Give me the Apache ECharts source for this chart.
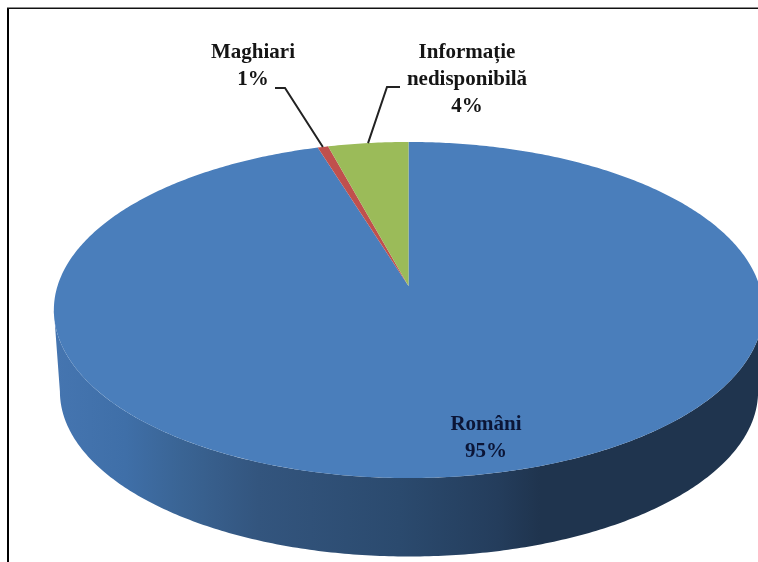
<!DOCTYPE html>
<html>
<head>
<meta charset="utf-8">
<style>
  html, body { margin: 0; padding: 0; background: #fff; }
  #pie3d { width: 758px; height: 562px; }
</style>
<script src="https://cdn.jsdelivr.net/npm/echarts@6/dist/echarts.min.js"></script>
</head>
<body>
<div id="pie3d"></div>
<script>
// clockwise from 12 o'clock; printed labels are these values rounded
var categories = ['Români', 'Maghiari', 'Informație nedisponibilă'];
var shares = [95.25, 0.55, 4.2];
var labelLines = [['Români'], ['Maghiari'], ['Informație', 'nedisponibilă']];

var sliceColors = ['#4a7ebb', '#c0504d', '#9bbb59'];
var textColors = ['#0b1536', '#151515', '#151515'];
var labelX = [486, 253, 467];
var labelY = [425, 53, 53];
var rowHeight = 27;
// elbow of the leader line, and where it starts next to the text
var leaders = [null, [[275, 88], [285, 88]], [[400, 87], [387, 87]]];

// perspective: the pie centre sits above the middle of the ellipse
var k = 1 / 7;
var topFace = { x: 408.5, y: 286, a: 351, b: 164.6 };
var bottomFace = { x: 409, y: 368, a: 345.5, b: 161.6 };
var total = shares.reduce(function (s, v) { return s + v; }, 0);

function project(face, theta) {
  var u = Math.sin(theta);
  var v = -Math.cos(theta);
  var w = 1 - k * v;
  return [face.x + face.a * u / w, face.y + face.b * v / w];
}

function arc(face, from, to) {
  var pts = [];
  var n = Math.max(2, Math.ceil(Math.abs(to - from) * 90));
  for (var i = 0; i <= n; i++) {
    pts.push(project(face, from + (to - from) * i / n));
  }
  return pts;
}

var wallFill = new echarts.graphic.LinearGradient(55, 0, 758, 0, [
  { offset: 0, color: '#4575b0' },
  { offset: 0.1, color: '#3f6fa8' },
  { offset: 0.18, color: '#3a6494' },
  { offset: 0.29, color: '#33557e' },
  { offset: 0.49, color: '#2b4a6e' },
  { offset: 0.63, color: '#243d5c' },
  { offset: 0.69, color: '#1f344e' },
  { offset: 1, color: '#1f344e' }
], true);

// the side wall only shows between the two widest points of the ellipse
var wallFrom = Math.PI - Math.acos(k);
var wallTo = Math.PI + Math.acos(k);

function renderSlice(params, api) {
  var i = params.dataIndex;
  var before = 0;
  for (var j = 0; j < i; j++) before += shares[j];
  var start = before / total * Math.PI * 2;
  var end = (before + api.value(0)) / total * Math.PI * 2;
  var mid = (start + end) / 2;
  var children = [];

  var from = Math.max(start, wallFrom);
  var to = Math.min(end, wallTo);
  if (from < to) {
    children.push({
      type: 'polygon',
      z2: 1,
      shape: { points: arc(topFace, from, to).concat(arc(bottomFace, to, from)) },
      style: { fill: wallFill }
    });
  }

  children.push({
    type: 'polygon',
    z2: 2,
    shape: { points: [[topFace.x, topFace.y]].concat(arc(topFace, start, end)) },
    style: { fill: sliceColors[i] }
  });

  if (leaders[i]) {
    children.push({
      type: 'polyline',
      z2: 3,
      shape: { points: leaders[i].concat([project(topFace, mid)]) },
      style: { fill: null, stroke: '#222', lineWidth: 2 }
    });
  }

  var rows = labelLines[i].concat([api.value(0).toFixed(0) + '%']);
  rows.forEach(function (row, r) {
    children.push({
      type: 'text',
      z2: 4,
      style: {
        x: labelX[i],
        y: labelY[i] + r * rowHeight,
        text: row,
        align: 'center',
        verticalAlign: 'middle',
        fill: textColors[i],
        font: 'bold 21px "Liberation Serif"'
      }
    });
  });

  return { type: 'group', children: children };
}

var myChart = echarts.init(document.getElementById('pie3d'));
myChart.setOption({
  animation: false,
  graphic: [
    { type: 'rect', silent: true, shape: { x: 7, y: 8, width: 2, height: 554 }, style: { fill: '#000' } },
    { type: 'rect', silent: true, shape: { x: 7, y: 7, width: 751, height: 1 }, style: { fill: '#8a8a8a' } },
    { type: 'rect', silent: true, shape: { x: 7, y: 8, width: 751, height: 1 }, style: { fill: '#111' } }
  ],
  series: [{
    type: 'custom',
    coordinateSystem: 'none',
    silent: true,
    clip: false,
    renderItem: renderSlice,
    data: shares.map(function (v, i) { return { name: categories[i], value: [v] }; })
  }]
});
</script>
</body>
</html>
